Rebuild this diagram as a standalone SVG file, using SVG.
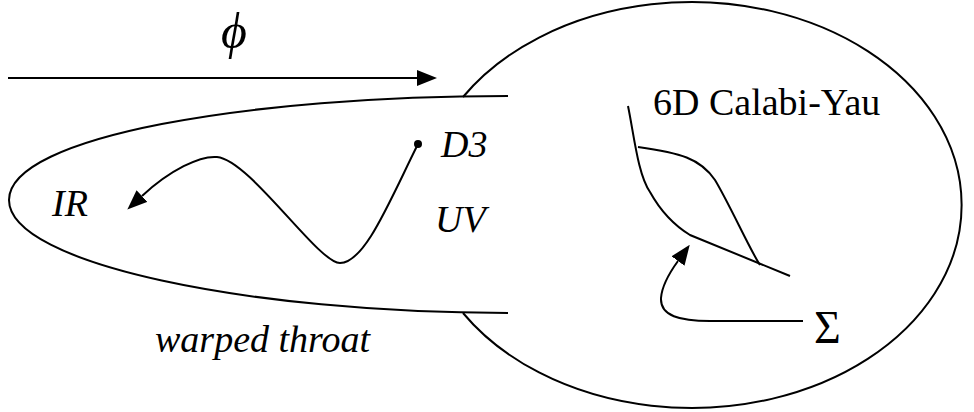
<svg xmlns="http://www.w3.org/2000/svg" width="974" height="412" viewBox="0 0 974 412">
<style>
.ln{fill:none;stroke:#000;stroke-width:2;stroke-linecap:butt}
.t{font-family:"Liberation Serif","DejaVu Serif",serif;font-size:38px;fill:#000}
.i{font-style:italic}
</style>
<defs>
<marker id="ah" viewBox="0 0 20 16" refX="0" refY="8" markerWidth="20" markerHeight="16" markerUnits="userSpaceOnUse" orient="auto">
<path d="M0,0 L20,8 L0,16 z" fill="#000"/>
</marker>
</defs>
<rect width="974" height="412" fill="#fff"/>
<g id="calabi-yau">
<path class="ln" d="M 463 97 A 270 203 0 1 1 463 313"/>
<text class="t" x="653" y="115">6D Calabi-Yau</text>
</g>
<g id="throat">
<path class="ln" d="M 508 96 C 250 96, 9 136, 9 200 C 9 264, 250 313, 508 313"/>
<text class="t i" x="155" y="352">warped throat</text>
</g>
<g id="ir"><text class="t i" x="52" y="216">IR</text></g>
<g id="uv"><text class="t i" x="435" y="232">UV</text></g>
<g id="d3">
<circle cx="418" cy="144" r="4" fill="#000"/>
<text class="t i" x="441" y="157">D3</text>
</g>
<g id="phi"><text class="t i" x="221" y="48" style="font-size:50px">ϕ</text></g>
<g id="sigma-surface">
<path class="ln" d="M 628 106 C 634 135, 638 175, 650 192 C 660 210, 672 224, 690 235 L 790 276"/>
<path class="ln" d="M 638 147 C 680 153, 700 158, 715 180 C 730 205, 750 250, 760 265"/>
</g>
<g id="sigma"><text class="t" x="814" y="343" style="font-size:46px">Σ</text></g>
<g id="connectors">
<path class="ln" d="M 8 78 L 417 78" marker-end="url(#ah)"/>
<path class="ln" d="M 418 144 C 390 200, 365 263, 340 263 C 318 263, 250 160, 217 157 C 200 155.5, 170 170, 142 196" marker-end="url(#ah)"/>
<path class="ln" d="M 803 321 L 710 321 C 680 321, 660 316, 661 298 C 662 285, 670 272, 678 261" marker-end="url(#ah)"/>
</g>
</svg>
